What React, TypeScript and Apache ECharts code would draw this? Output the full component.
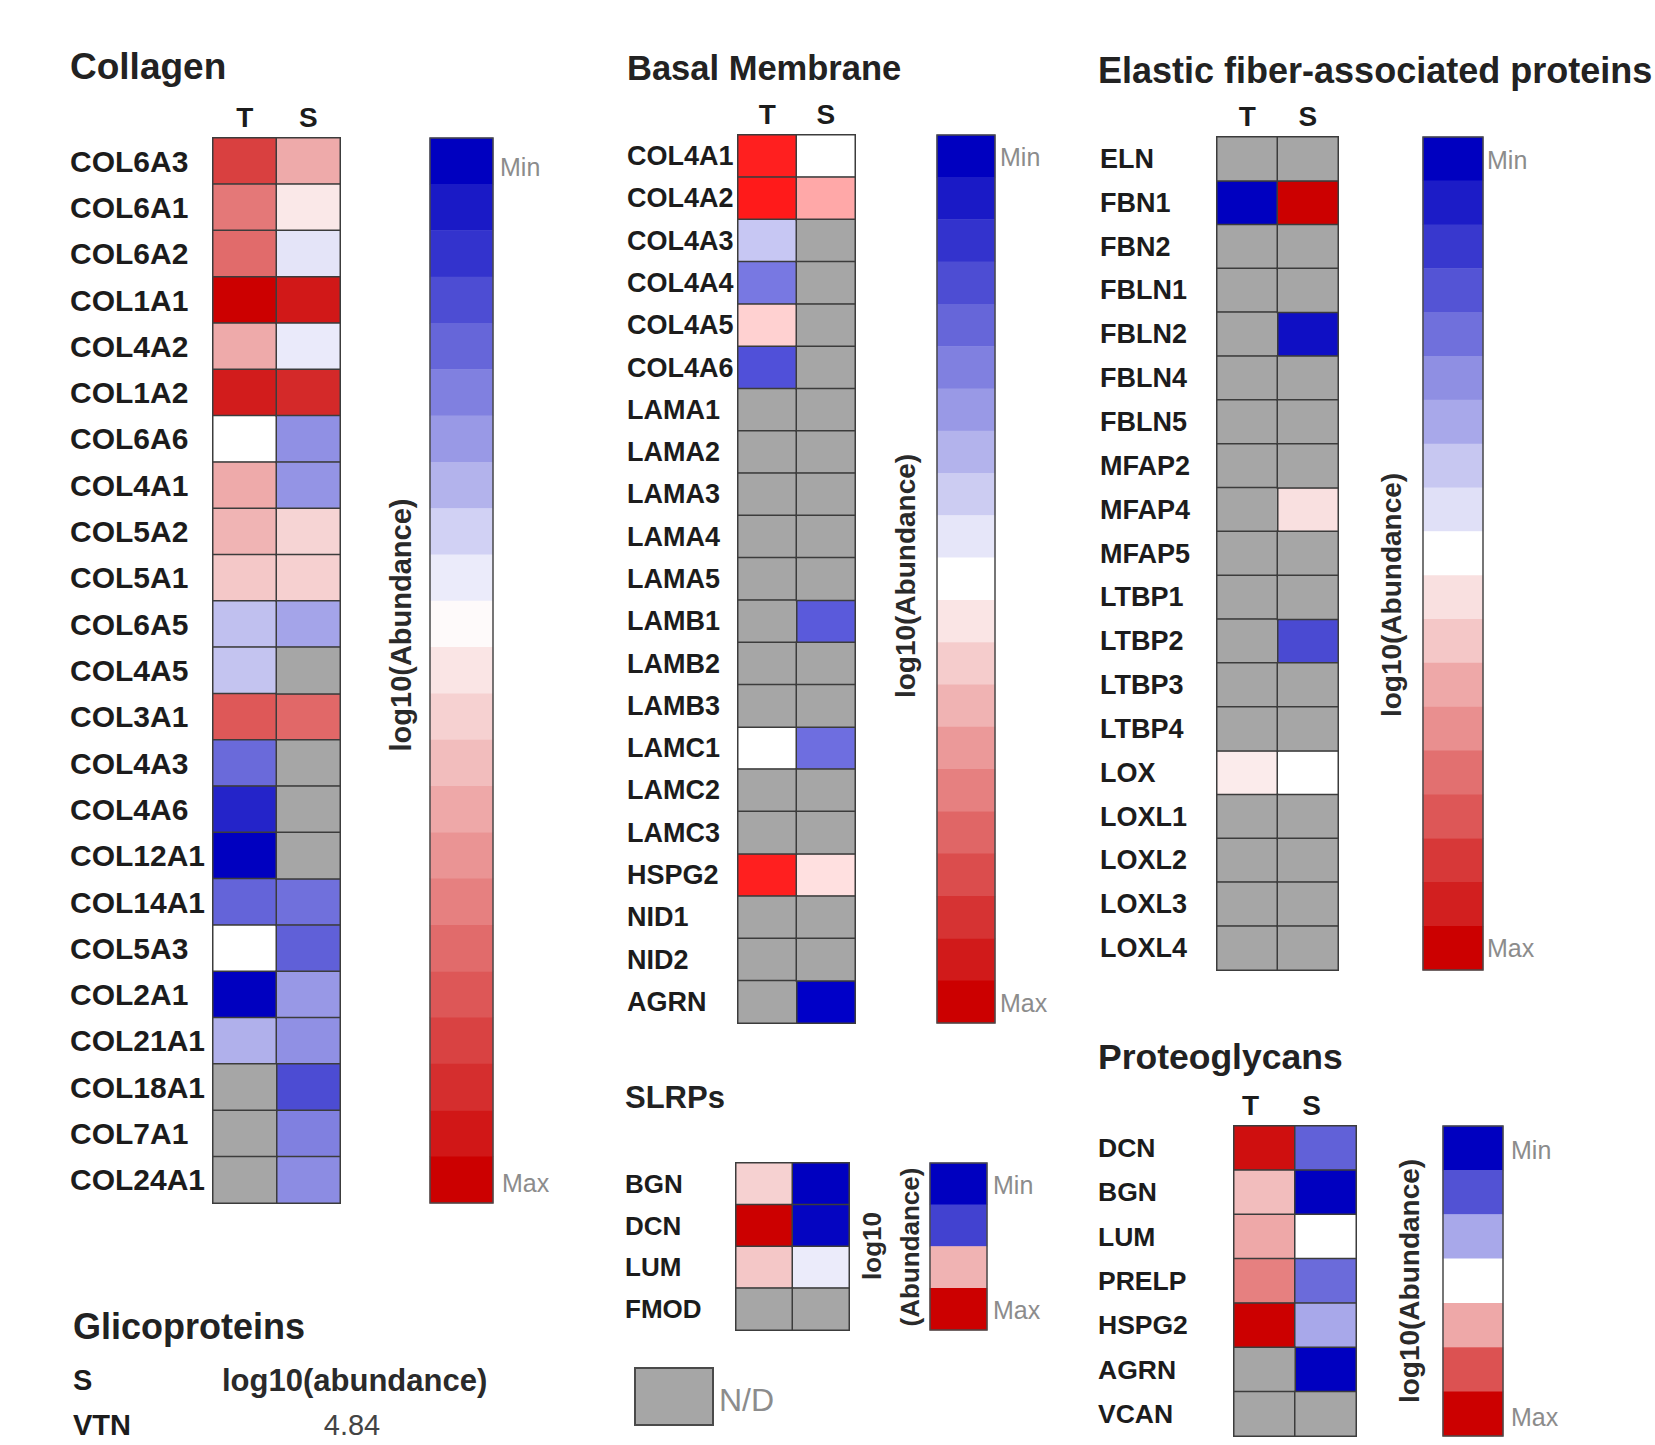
import React, { useEffect, useRef } from 'react';
import * as echarts from 'echarts';

// ---------- DATA (0 = panel minimum / blue, 1 = panel maximum / red, null = N/D) ----------
const sampleCols = ['T', 'S'];

const collagenGenes = ['COL6A3', 'COL6A1', 'COL6A2', 'COL1A1', 'COL4A2', 'COL1A2', 'COL6A6', 'COL4A1', 'COL5A2', 'COL5A1', 'COL6A5', 'COL4A5', 'COL3A1', 'COL4A3', 'COL4A6', 'COL12A1', 'COL14A1', 'COL5A3', 'COL2A1', 'COL21A1', 'COL18A1', 'COL7A1', 'COL24A1'];
const collagenT = [0.875, 0.765, 0.79, 1.0, 0.667, 0.945, 0.5, 0.667, 0.647, 0.608, 0.376, 0.384, 0.827, 0.208, 0.07, 0.0, 0.196, 0.5, 0.0, 0.345, null, null, null];
const collagenS = [0.667, 0.545, 0.447, 0.953, 0.459, 0.92, 0.282, 0.29, 0.584, 0.592, 0.322, null, 0.796, null, null, null, 0.22, 0.188, 0.298, 0.282, 0.149, 0.25, 0.275];
const collagenScale = [0, 0.05, 0.1, 0.15, 0.2, 0.25, 0.3, 0.35, 0.41, 0.46, 0.51, 0.55, 0.59, 0.63, 0.67, 0.71, 0.75, 0.79, 0.83, 0.87, 0.91, 0.955, 1.0];

const basalGenes = ['COL4A1', 'COL4A2', 'COL4A3', 'COL4A4', 'COL4A5', 'COL4A6', 'LAMA1', 'LAMA2', 'LAMA3', 'LAMA4', 'LAMA5', 'LAMB1', 'LAMB2', 'LAMB3', 'LAMC1', 'LAMC2', 'LAMC3', 'HSPG2', 'NID1', 'NID2', 'AGRN'];
const basalT = [0.94, 0.95, 0.39, 0.235, 0.59, 0.157, null, null, null, null, null, null, null, null, 0.5, null, null, 0.94, null, null, null];
const basalS = [0.5, 0.67, null, null, null, null, null, null, null, null, null, 0.176, null, null, 0.216, null, null, 0.56, null, null, 0.0];
const basalScale = [0, 0.05, 0.1, 0.15, 0.2, 0.25, 0.3, 0.35, 0.4, 0.45, 0.5, 0.55, 0.6, 0.65, 0.7, 0.75, 0.8, 0.85, 0.9, 0.95, 1.0];

const slrpGenes = ['BGN', 'DCN', 'LUM', 'FMOD'];
const slrpT = [0.59, 1.0, 0.61, null];
const slrpS = [0.0, 0.01, 0.46, null];
const slrpScale = [0, 0.13, 0.65, 1.0];

const elasticGenes = ['ELN', 'FBN1', 'FBN2', 'FBLN1', 'FBLN2', 'FBLN4', 'FBLN5', 'MFAP2', 'MFAP4', 'MFAP5', 'LTBP1', 'LTBP2', 'LTBP3', 'LTBP4', 'LOX', 'LOXL1', 'LOXL2', 'LOXL3', 'LOXL4'];
const elasticT = [null, 0.0, null, null, null, null, null, null, null, null, null, null, null, null, 0.54, null, null, null, null];
const elasticS = [null, 1.0, null, null, 0.03, null, null, null, 0.56, null, null, 0.145, null, null, 0.5, null, null, null, null];
const elasticScale = [0, 0.055, 0.11, 0.165, 0.22, 0.28, 0.33, 0.39, 0.44, 0.5, 0.56, 0.61, 0.67, 0.72, 0.78, 0.83, 0.89, 0.94, 1.0];

const proteoGenes = ['DCN', 'BGN', 'LUM', 'PRELP', 'HSPG2', 'AGRN', 'VCAN'];
const proteoT = [0.97, 0.63, 0.67, 0.75, 1.0, null, null];
const proteoS = [0.19, 0.0, 0.5, 0.21, 0.33, 0.0, null];
const proteoScale = [0, 0.16, 0.33, 0.5, 0.67, 0.84, 1.0];

const glicoHeader = ['S', 'log10(abundance)'];
const glicoGenes = ['VTN'];
const glicoValues = [4.84];

// ---------- STYLE ----------
const FONT = '"Liberation Sans", Arial, sans-serif';
const LABEL_COLOR = '#1c1c1c';
const GRAY_TEXT = '#8c8c8c';
const ND_COLOR = '#a6a6a6';
const CELL_BORDER = '#3c3c3c';
const RAMP_STD = ['#0000c0', '#ffffff', '#cc0000'];
const RAMP_BRIGHT = ['#0000c8', '#ffffff', '#ff0000'];

const panels = [
  {
    title: 'Collagen', genes: collagenGenes, t: collagenT, s: collagenS, scale: collagenScale, showCols: true, bright: false,
    grid: { left: 213, top: 138, width: 127, height: 1065 }, cb: { left: 430, width: 63 },
    labelLeft: 70, labelSize: 30, colPad: 0,
    titlePos: [70, 66, 37], axisTitle: [[401, 625]], axisTitleSize: 29, minPos: [500, 167], maxPos: [502, 1183],
  },
  {
    title: 'Basal Membrane', genes: basalGenes, t: basalT, s: basalS, scale: basalScale, showCols: true, bright: true,
    grid: { left: 738, top: 135, width: 117, height: 888 }, cb: { left: 937, width: 58 },
    labelLeft: 627, labelSize: 27, colPad: 0,
    titlePos: [627, 68, 34.5], axisTitle: [[905, 576]], axisTitleSize: 28, minPos: [1000, 157], maxPos: [1000, 1003],
  },
  {
    title: 'SLRPs', genes: slrpGenes, t: slrpT, s: slrpS, scale: slrpScale, showCols: false, bright: false,
    grid: { left: 736, top: 1163, width: 113, height: 167 }, cb: { left: 930, width: 57 },
    labelLeft: 625, labelSize: 26, colPad: 0,
    titlePos: [625, 1097, 31], axisTitle: [[872, 1246], [910, 1247]], axisTitleSize: 26, minPos: [993, 1185], maxPos: [993, 1310],
  },
  {
    title: 'Elastic fiber-associated proteins', genes: elasticGenes, t: elasticT, s: elasticS, scale: elasticScale, showCols: true, bright: false,
    grid: { left: 1217, top: 137, width: 121, height: 833 }, cb: { left: 1423, width: 60 },
    labelLeft: 1100, labelSize: 27, colPad: 0,
    titlePos: [1098, 70, 36], axisTitle: [[1391, 595]], axisTitleSize: 28, minPos: [1487, 160], maxPos: [1487, 948],
  },
  {
    title: 'Proteoglycans', genes: proteoGenes, t: proteoT, s: proteoS, scale: proteoScale, showCols: true, bright: false,
    grid: { left: 1234, top: 1126, width: 122, height: 310 }, cb: { left: 1443, width: 60 },
    labelLeft: 1098, labelSize: 26.5, colPad: 28,
    titlePos: [1098, 1057, 35.5], axisTitle: [[1409, 1281]], axisTitleSize: 28, minPos: [1511, 1150], maxPos: [1511, 1417],
  },
];

function buildOption() {
  const grid: any[] = [];
  const xAxis: any[] = [];
  const yAxis: any[] = [];
  const series: any[] = [];
  const graphic: any[] = [];
  const stdSeries: number[] = [];
  const brightSeries: number[] = [];
  const ndSeries: number[] = [];

  panels.forEach((p, i) => {
    const gi = i * 2;
    grid.push({ ...p.grid, containLabel: false });
    grid.push({
      left: p.cb.left, top: p.grid.top, width: p.cb.width, height: p.grid.height,
      show: true, z: 10, backgroundColor: 'transparent', borderColor: '#4a4a4a', borderWidth: 1.5,
    });

    xAxis.push({
      type: 'category', gridIndex: gi, data: sampleCols, position: 'top',
      axisLine: { show: false }, axisTick: { show: false }, splitLine: { show: false },
      axisLabel: {
        show: p.showCols, margin: 7, fontFamily: FONT, fontWeight: 'bold', fontSize: 28, color: LABEL_COLOR,
        padding: p.colPad ? [0, p.colPad, 0, 0] : 0,
      },
    });
    yAxis.push({
      type: 'category', gridIndex: gi, data: p.genes, inverse: true,
      axisLine: { show: false }, axisTick: { show: false }, splitLine: { show: false },
      axisLabel: {
        interval: 0, align: 'left', margin: p.grid.left - p.labelLeft, padding: [4, 0, 0, 0],
        fontFamily: FONT, fontWeight: 'bold', fontSize: p.labelSize, color: LABEL_COLOR,
      },
    });
    xAxis.push({ type: 'category', gridIndex: gi + 1, data: [''], show: false });
    yAxis.push({ type: 'category', gridIndex: gi + 1, data: p.scale.map((_, k) => String(k)), inverse: true, show: false });

    const measured: any[] = [];
    const nd: any[] = [];
    [p.t, p.s].forEach((col, c) => {
      col.forEach((v, r) => {
        if (v === null) nd.push([c, r, 0]);
        else measured.push([c, r, v]);
      });
    });

    (p.bright ? brightSeries : stdSeries).push(series.length);
    series.push({
      type: 'heatmap', name: p.title, xAxisIndex: gi, yAxisIndex: gi, data: measured,
      itemStyle: { borderColor: CELL_BORDER, borderWidth: 1.5 }, emphasis: { disabled: true },
    });
    ndSeries.push(series.length);
    series.push({
      type: 'heatmap', name: p.title + ' N/D', xAxisIndex: gi, yAxisIndex: gi, data: nd,
      itemStyle: { borderColor: CELL_BORDER, borderWidth: 1.5 }, emphasis: { disabled: true },
    });
    stdSeries.push(series.length);
    series.push({
      type: 'heatmap', name: p.title + ' scale', xAxisIndex: gi + 1, yAxisIndex: gi + 1,
      data: p.scale.map((v, k) => [0, k, v]),
      itemStyle: { borderWidth: 0 }, emphasis: { disabled: true },
    });

    graphic.push({
      type: 'text', x: p.titlePos[0], y: p.titlePos[1],
      style: { text: p.title, fontFamily: FONT, fontWeight: 'bold', fontSize: p.titlePos[2], fill: '#222', align: 'left', verticalAlign: 'middle' },
    });
    const axisTexts = p.axisTitle.length === 2 ? ['log10', '(Abundance)'] : ['log10(Abundance)'];
    p.axisTitle.forEach((pos, k) => {
      graphic.push({
        type: 'text', x: pos[0], y: pos[1], rotation: Math.PI / 2,
        style: { text: axisTexts[k], fontFamily: FONT, fontWeight: 'bold', fontSize: p.axisTitleSize, fill: '#2a2a2a', align: 'center', verticalAlign: 'middle' },
      });
    });
    graphic.push({
      type: 'text', x: p.minPos[0], y: p.minPos[1],
      style: { text: 'Min', fontFamily: FONT, fontSize: 25, fill: GRAY_TEXT, align: 'left', verticalAlign: 'middle' },
    });
    graphic.push({
      type: 'text', x: p.maxPos[0], y: p.maxPos[1],
      style: { text: 'Max', fontFamily: FONT, fontSize: 25, fill: GRAY_TEXT, align: 'left', verticalAlign: 'middle' },
    });
  });

  graphic.push({
    type: 'rect', shape: { x: 635, y: 1368, width: 78, height: 57 },
    style: { fill: ND_COLOR, stroke: '#4a4a4a', lineWidth: 2 },
  });
  graphic.push({
    type: 'text', x: 719, y: 1400,
    style: { text: 'N/D', fontFamily: FONT, fontSize: 32, fill: GRAY_TEXT, align: 'left', verticalAlign: 'middle' },
  });

  graphic.push({
    type: 'text', x: 73, y: 1326,
    style: { text: 'Glicoproteins', fontFamily: FONT, fontWeight: 'bold', fontSize: 36, fill: '#222', align: 'left', verticalAlign: 'middle' },
  });
  graphic.push({
    type: 'text', x: 73, y: 1380,
    style: { text: glicoHeader[0], fontFamily: FONT, fontWeight: 'bold', fontSize: 29, fill: LABEL_COLOR, align: 'left', verticalAlign: 'middle' },
  });
  graphic.push({
    type: 'text', x: 222, y: 1380,
    style: { text: glicoHeader[1], fontFamily: FONT, fontWeight: 'bold', fontSize: 31, fill: '#2a2a2a', align: 'left', verticalAlign: 'middle' },
  });
  glicoGenes.forEach((g, k) => {
    graphic.push({
      type: 'text', x: 73, y: 1425 + k * 45,
      style: { text: g, fontFamily: FONT, fontWeight: 'bold', fontSize: 29, fill: LABEL_COLOR, align: 'left', verticalAlign: 'middle' },
    });
    graphic.push({
      type: 'text', x: 352, y: 1425 + k * 45,
      style: { text: glicoValues[k].toFixed(2), fontFamily: FONT, fontSize: 29, fill: '#444', align: 'center', verticalAlign: 'middle' },
    });
  });

  return {
    animation: false,
    backgroundColor: '#ffffff',
    textStyle: { fontFamily: FONT },
    grid, xAxis, yAxis, series, graphic,
    visualMap: [
      {
        type: 'continuous', show: false, min: 0, max: 1, dimension: 2, seriesIndex: stdSeries,
        inRange: { color: RAMP_STD },
      },
      {
        type: 'continuous', show: false, min: 0, max: 1, dimension: 2, seriesIndex: brightSeries,
        inRange: { color: RAMP_BRIGHT },
      },
      {
        type: 'continuous', show: false, min: 0, max: 1, dimension: 2, seriesIndex: ndSeries,
        inRange: { color: [ND_COLOR, ND_COLOR] }, outOfRange: { color: [ND_COLOR] },
      },
    ],
  };
}

export default function App() {
  const ref = useRef<HTMLDivElement>(null);
  useEffect(() => {
    const chart = echarts.init(ref.current as HTMLDivElement, null, { renderer: 'svg' });
    chart.setOption(buildOption() as any);
    return () => chart.dispose();
  }, []);
  return (
    <div
      ref={ref}
      style={{ position: 'absolute', left: 0, top: 0, width: '1655px', height: '1445px', background: '#fff' }}
    />
  );
}
